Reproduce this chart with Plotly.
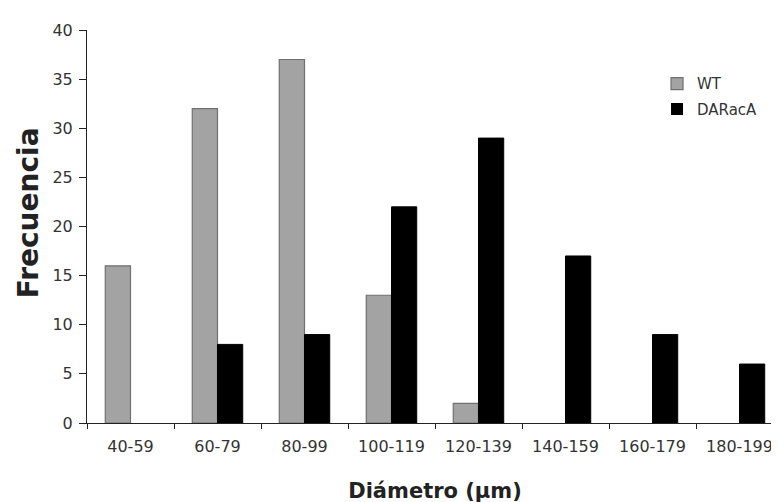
import plotly.graph_objects as go

categories = ["40-59", "60-79", "80-99", "100-119", "120-139", "140-159", "160-179", "180-199"]
wt_values = [16, 32, 37, 13, 2, 0, 0, 0]
daraca_values = [0, 8, 9, 22, 29, 17, 9, 6]

wt_line = [1.2 if v > 0 else 0 for v in wt_values]
da_line = [1 if v > 0 else 0 for v in daraca_values]

fig = go.Figure()
fig.add_trace(go.Bar(x=categories, y=wt_values, name="WT", legendgroup="wt",
                     marker=dict(color="#a3a3a3", line=dict(color="#707070", width=wt_line))))
fig.add_trace(go.Bar(x=categories, y=daraca_values, name="DARacA", legendgroup="da",
                     marker=dict(color="#000000", line=dict(color="#000000", width=da_line))))

font_family = "DejaVu Sans"
fig.update_layout(
    width=779, height=502,
    margin=dict(l=79, r=4, t=22, b=87),
    plot_bgcolor="white", paper_bgcolor="white",
    barmode="group", bargap=0.42, bargroupgap=0,
    font=dict(family=font_family, size=16, color="#333333"),
    showlegend=True,
    legend=dict(x=0.819, y=0.905, xanchor="left", yanchor="top",
                font=dict(size=15, color="#333333"), bgcolor="rgba(0,0,0,0)",
                itemwidth=30, traceorder="grouped", tracegroupgap=3),
    annotations=[dict(text="<b>Frecuencia</b>", textangle=-90, showarrow=False,
                      xref="paper", yref="paper", x=0, xanchor="center", xshift=-59,
                      y=0.534, yanchor="middle",
                      font=dict(size=28, color="#222222"))],
)
fig.update_xaxes(
    automargin=False,
    showline=True, linecolor="#222222", linewidth=1,
    ticks="outside", tickson="boundaries", ticklen=5, tickcolor="#222222",
    range=[-0.5, 7.5], ticklabelstandoff=9,
    title=dict(text="<b>Diámetro (µm)</b>", font=dict(size=21, color="#222222"), standoff=28),
    tickfont=dict(size=16, color="#333333"),
)
fig.update_yaxes(
    automargin=False,
    showline=True, linecolor="#222222", linewidth=1,
    ticks="outside", ticklen=7, tickcolor="#222222",
    range=[0, 40], dtick=5, showgrid=False, zeroline=False, ticklabelstandoff=3,
    tickfont=dict(size=16, color="#333333"),
)

fig.write_html("out.html")
